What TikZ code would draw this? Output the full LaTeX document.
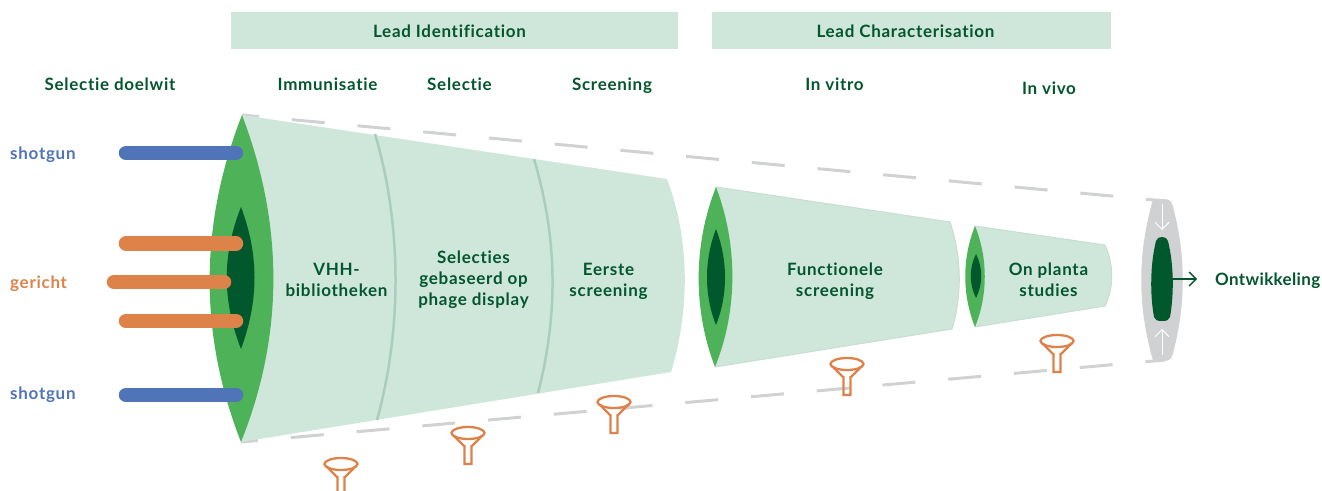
\documentclass[tikz,border=0pt]{standalone}
\usepackage{fontspec}
\setmainfont[LetterSpace=4.2,Ligatures=NoCommon]{Lato}
\usetikzlibrary{arrows.meta}
\definecolor{pale}{HTML}{CFE6DA}
\definecolor{midgreen}{HTML}{4EB259}
\definecolor{darkgreen}{HTML}{00582C}
\definecolor{txtgreen}{HTML}{03562E}
\definecolor{barblue}{HTML}{4F74B8}
\definecolor{barorange}{HTML}{DD8249}
\definecolor{greyline}{HTML}{D0D1D3}
\definecolor{divider}{HTML}{A9CFBC}
\definecolor{coneedge}{HTML}{C9DDD2}
\newcommand\tst{\rule[-4pt]{0pt}{16pt}}
\tikzset{
  x=1pt,y=-1pt,
  lbl/.style={font=\bfseries\fontsize{17}{21}\selectfont,text=txtgreen,align=center,inner sep=0pt},
  head/.style={fill=pale,draw=none},
  conefill/.style={fill=pale,draw=coneedge,line width=1pt,line join=round},
  lensout/.style={fill=midgreen,draw=none},
  lensin/.style={fill=darkgreen,draw=none},
  bar/.style={line width=14.5pt,line cap=round},
  dashline/.style={draw=greyline,line width=3pt,dash pattern=on 33pt off 33pt,dash phase=16pt},
  div/.style={draw=divider,line width=2.5pt},
  funnel/.pic={
    \draw[barorange,line width=2.3pt,line join=miter]
      (-4,13) -- (-15,2) (4,13) -- (15,2)
      (-3.5,12) -- (-3.5,31) -- (3.5,31) -- (3.5,12);
    \draw[barorange,line width=2.3pt] (0,0) ellipse[x radius=16.5,y radius=6];
  }
}
\begin{document}
\begin{tikzpicture}
\useasboundingbox (0,0) rectangle (1322,490);
% header bands
\fill[head] (231,12) rectangle (678,49);
\fill[head] (712,12) rectangle (1111,49);
\node[lbl] (leadid) at (449.5,33) {\tst Lead Identification};
\node[lbl] (leadch) at (905.5,33) {\tst Lead Characterisation};
\node[lbl] (doel) at (110,86) {\tst Selectie doelwit};
\node[lbl] (immu) at (327.5,86) {\tst Immunisatie};
\node[lbl] (sele) at (459.5,86) {\tst Selectie};
\node[lbl] (scre) at (612,86) {\tst Screening};
\node[lbl] (vitro) at (834.5,86) {\tst In vitro};
\node[lbl] (vivo) at (1049,90) {\tst In vivo};
% funnel outline dashes
\draw[dashline] (242,115) -- (1165,201);
\draw[dashline] (241,442) -- (1165,360);
% cone 1
\fill[pale] (242,115) -- (667,179) .. controls (690,240) and (690,310) .. (671,372)
  -- (241,442) -- cycle;
\draw[div] (375,134) .. controls (402,225) and (402,330) .. (377,420);
\draw[div] (534,159) .. controls (558,240) and (558,315) .. (538,393);
\fill[lensout] (242,115) .. controls (199,225) and (199,335) .. (241,442)
  .. controls (284,335) and (284,225) .. (242,115) -- cycle;
\fill[lensin] (241,207) .. controls (222,255) and (222,300) .. (241,349)
  .. controls (259,300) and (259,255) .. (241,207) -- cycle;
% cone 2
\draw[conefill] (716,187) -- (950,222) .. controls (962,258) and (962,295) .. (952,329)
  -- (715,367) -- cycle;
\fill[lensout] (716,187) .. controls (693,245) and (693,310) .. (715,367)
  .. controls (738,310) and (738,245) .. (716,187) -- cycle;
\fill[lensin] (716,229) .. controls (704,260) and (704,295) .. (716,325)
  .. controls (728,295) and (728,260) .. (716,229) -- cycle;
% cone 3
\draw[conefill] (975,226) -- (1105,245) .. controls (1114,265) and (1114,287) .. (1105,306)
  -- (975,327) -- cycle;
\fill[lensout] (975,226) .. controls (962,258) and (962,295) .. (975,327)
  .. controls (988,295) and (988,258) .. (975,226) -- cycle;
\fill[lensin] (976,254) .. controls (969,268) and (969,284) .. (976,298)
  .. controls (983,284) and (983,268) .. (976,254) -- cycle;
% bars
\draw[bar,barblue] (126,153) -- (236,153);
\draw[bar,barorange] (126,243.5) -- (236,243.5);
\draw[bar,barorange] (114,282) -- (224,282);
\draw[bar,barorange] (126,321) -- (236,321);
\draw[bar,barblue] (126,395) -- (236,395);
\node[lbl,anchor=west,text=barblue] (s1) at (10,155) {\tst shotgun};
\node[lbl,anchor=west,text=barorange] (g1) at (10,284) {\tst gericht};
\node[lbl,anchor=west,text=barblue] (s2) at (10,395) {\tst shotgun};
% stage texts
\node[lbl] (t1) at (336.5,281.5) {\tst VHH-\\\tst bibliotheken};
\node[lbl] (t2) at (473.5,280) {\tst Selecties\\\tst gebaseerd op\\\tst phage display};
\node[lbl] (t3) at (608.5,281.5) {\tst Eerste\\\tst screening};
\node[lbl] (t4) at (835,281.5) {\tst Functionele\\\tst screening};
\node[lbl] (t5) at (1048.5,281.5) {\tst On planta\\\tst studies};
% end capsule
\fill[greyline] (1155,199) -- (1164,199) .. controls (1170,199) and (1172,202) .. (1173,207)
  .. controls (1186,255) and (1186,305) .. (1173,353)
  .. controls (1172,358) and (1170,361) .. (1164,361) -- (1155,361)
  .. controls (1153,361) and (1152,358) .. (1151,353)
  .. controls (1138,305) and (1138,255) .. (1151,207)
  .. controls (1152,202) and (1153,199) .. (1155,199) -- cycle;
\fill[darkgreen] (1156,241) .. controls (1157,238) and (1159,237) .. (1162,237)
  .. controls (1165,237) and (1167,238) .. (1168,241)
  .. controls (1174,265) and (1174,295) .. (1170,317)
  .. controls (1169,320) and (1167,321) .. (1162,321)
  .. controls (1157,321) and (1155,320) .. (1154,317)
  .. controls (1150,295) and (1150,265) .. (1156,241) -- cycle;
\coordinate (coreedge) at (1172,279);
\coordinate (coreout) at (1197,279);
\coordinate (wt1) at (1162,204);
\coordinate (wt2) at (1162,230);
\coordinate (wb1) at (1162,355);
\coordinate (wb2) at (1162,329);
\draw[white,line width=1pt,-{Straight Barb[length=7pt,width=14pt]}] (wt1) -- (wt2);
\draw[white,line width=1pt,-{Straight Barb[length=7pt,width=14pt]}] (wb1) -- (wb2);
\draw[txtgreen,line width=1.3pt,-{Straight Barb[length=7pt,width=14pt]}] (coreedge) -- (coreout);
\node[lbl,anchor=west] (ontw) at (1215,281) {\addfontfeature{LetterSpace=2}\tst Ontwikkeling};
% funnels
\pic at (341,464) {funnel};
\pic at (468,433) {funnel};
\pic at (614,402) {funnel};
\pic at (847,364) {funnel};
\pic at (1057,341) {funnel};
\end{tikzpicture}
\end{document}
